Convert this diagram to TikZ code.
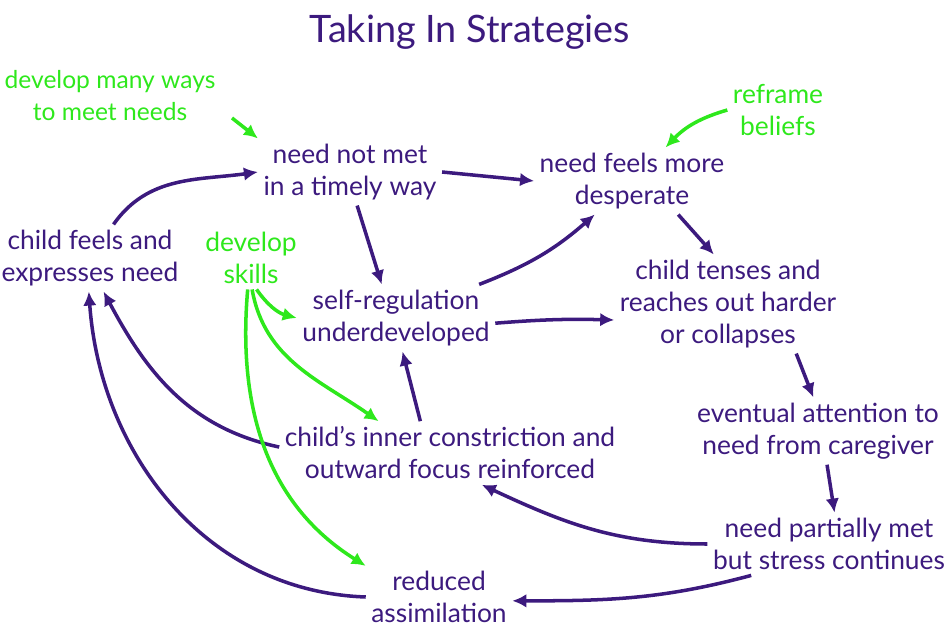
\documentclass[tikz,border=0pt]{standalone}
\usepackage{fontspec}
\setmainfont{Lato}
\usetikzlibrary{arrows.meta, positioning}
\definecolor{purp}{RGB}{60,26,126}
\definecolor{grn}{RGB}{46,232,28}

\tikzset{
  box/.style={text=purp, align=center, inner sep=3pt, font=\fontsize{15}{18.2}\selectfont},
  gbox/.style={box, text=grn},
  flow/.style={draw=purp, line width=2pt, -{Latex[length=0.28cm,width=0.27cm]}},
  gflow/.style={flow, draw=grn}
}

\begin{document}
\begin{tikzpicture}[x=0.02cm,y=0.02cm]
\useasboundingbox (0,0) rectangle (950,633);

\node[text=purp, font=\fontsize{21.5}{24}\selectfont](title) at (470,601) {Taking In Strategies};

\node[box](nm) at (350,461) {need not met\\in a timely way};
\node[box](nf) at (632,452) {need feels more\\desperate};
\node[box](cf) at (90,375) {child feels and\\expresses need};
\node[box](sr) at (396,315) {self-regulation\\underdeveloped};
\node[box](ct) at (728,329) {child tenses and\\reaches out harder\\or collapses};
\node[box](ea) at (818,202) {eventual attention to\\need from caregiver};
\node[box](ci) at (450,180) {child’s inner constriction and\\outward focus reinforced};
\node[box](np) at (829,89) {need partially met\\but stress continues};
\node[box](ra) at (439,36) {reduced\\assimilation};

\node[gbox, font=\fontsize{14}{18.2}\selectfont](dm) at (110,537) {develop many ways\\to meet needs};
\node[gbox](rb) at (778,523) {reframe\\beliefs};
\node[gbox](ds) at (251,375) {develop\\skills};
\coordinate (dmout) at (232,515);

% main loop
\draw[flow] (cf.55) to[out=55,in=188] (nm.west);
\draw[flow] (nm.east) -- (nf.west);
\draw[flow] (nm.-78) -- (sr.113);
\draw[flow] (sr.22) to[bend right=10] (nf.222);
\draw[flow] (nf.-36) -- (ct.106);
\draw[flow] (sr.-3) to[bend left=3] (ct.188);
\draw[flow] (ct.-36) -- (ea.98);
\draw[flow] (ea.-75) -- (np.80);
\draw[flow] (np.west) to[out=180,in=-25] (ci.-45);
\draw[flow] (np.202) to[out=195,in=0] (ra.-3);
\draw[flow] (ci.133) -- (sr.-79);
\draw[flow] (ci.178) to[out=168,in=-62] (cf.-68);
\draw[flow] (ra.west) to[out=178,in=-86] (cf.-92);

% strategies
\draw[gflow] (dmout) -- (nm.north west);
\draw[gflow] (rb.west) to[bend right=15] (nf.45);
\draw[gflow] (ds.-80) to[out=-55,in=165] (sr.west);
\draw[gflow] (ds.-88) to[out=-80,in=145] (ci.156);
\draw[gflow] (ds.-96) to[out=-95,in=148] (ra.157);
\end{tikzpicture}
\end{document}
